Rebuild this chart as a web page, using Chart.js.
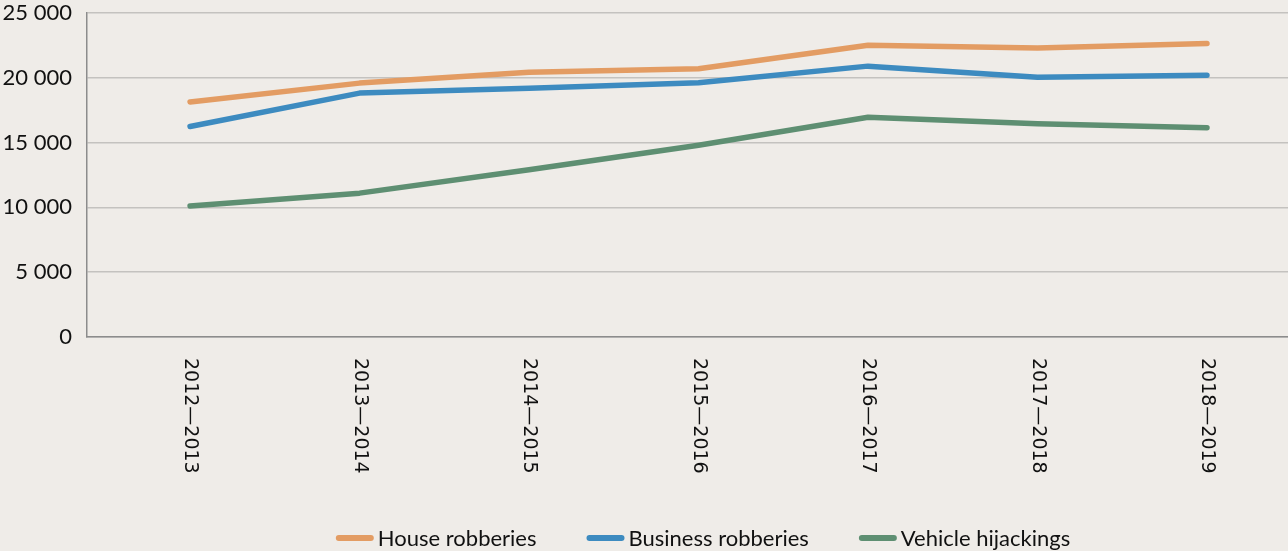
<!DOCTYPE html>
<html>
<head>
<meta charset="utf-8">
<script src="https://cdn.jsdelivr.net/npm/chart.js@4/dist/chart.umd.min.js"></script>
<style>
  html, body { margin: 0; padding: 0; background: #efece8; }
  #wrap { width: 1288px; height: 551px; }
</style>
</head>
<body>
<div id="wrap"><canvas id="myChart"></canvas></div>
<script>
const categories = ['2012\u20142013', '2013\u20142014', '2014\u20142015', '2015\u20142016', '2016\u20142017', '2017\u20142018', '2018\u20142019'];
const houseRobberies = [18130, 19590, 20420, 20700, 22510, 22300, 22640];
const businessRobberies = [16240, 18820, 19200, 19610, 20900, 20050, 20190];
const vehicleHijackings = [10100, 11100, 12900, 14800, 16950, 16450, 16150];
const yTicks = [0, 5000, 10000, 15000, 20000, 25000];

const toPoints = values => values.map((v, i) => ({ x: i, y: v }));
const fmt = v => String(v).replace(/\B(?=(\d{3})+(?!\d))/g, ' ');

// x labels in the original read top to bottom, so draw them by hand
const verticalLabels = {
    id: 'verticalLabels',
    afterDraw(chart) {
        const { ctx, chartArea } = chart;
        const x = chart.scales.x;
        ctx.save();
        ctx.font = '19px "DejaVu Sans"';
        ctx.fillStyle = '#111';
        ctx.textAlign = 'left';
        ctx.textBaseline = 'middle';
        categories.forEach((label, i) => {
            ctx.save();
            ctx.translate(x.getPixelForValue(i), chartArea.bottom + 21);
            ctx.rotate(Math.PI / 2);
            ctx.fillText(label, 0, 0);
            ctx.restore();
        });
        ctx.restore();
    }
};

// legend with a short gap between swatch and text, like the original
const lineLegend = {
    id: 'lineLegend',
    afterDraw(chart) {
        const { ctx } = chart;
        const sets = chart.data.datasets;
        const swatch = 38, gap = 4, spacing = 50, y = 538, center = 703;
        ctx.save();
        ctx.font = '22px Lato';
        const widths = sets.map(d => swatch + gap + ctx.measureText(d.label).width);
        const total = widths.reduce((a, b) => a + b, 0) + spacing * (sets.length - 1);
        let x = center - total / 2;
        sets.forEach((d, i) => {
            ctx.strokeStyle = d.borderColor;
            ctx.lineWidth = 6;
            ctx.lineCap = 'round';
            ctx.beginPath();
            ctx.moveTo(x + 3, y);
            ctx.lineTo(x + swatch - 3, y);
            ctx.stroke();
            ctx.fillStyle = '#111';
            ctx.textAlign = 'left';
            ctx.textBaseline = 'middle';
            ctx.fillText(d.label, x + swatch + gap, y + 1);
            x += widths[i] + spacing;
        });
        ctx.restore();
    }
};

const line = (label, values, color) => ({
    label: label,
    data: toPoints(values),
    borderColor: color,
    backgroundColor: color,
    borderWidth: 5.5,
    borderCapStyle: 'round',
    borderJoinStyle: 'round',
    pointRadius: 0,
    tension: 0
});

new Chart(document.getElementById('myChart'), {
    type: 'line',
    data: {
        datasets: [
            line('House robberies', houseRobberies, '#e39c63'),
            line('Business robberies', businessRobberies, '#3d8bc0'),
            line('Vehicle hijackings', vehicleHijackings, '#5e8f72')
        ]
    },
    options: {
        responsive: true,
        maintainAspectRatio: false,
        animation: false,
        layout: { padding: { top: 13, right: 0, left: 0, bottom: 0 } },
        plugins: {
            tooltip: { enabled: false },
            legend: { display: false }
        },
        scales: {
            x: {
                type: 'linear',
                min: -0.608,
                max: 6.478,
                grid: { display: false },
                border: { color: '#8c8c8c', width: 1.5 },
                ticks: { display: false },
                afterFit: scale => { scale.height = 214; }
            },
            y: {
                min: 0,
                max: 25000,
                afterBuildTicks: scale => { scale.ticks = yTicks.map(v => ({ value: v })); },
                grid: { color: '#c4c2bf', lineWidth: 1.5, drawTicks: false },
                border: { color: '#8c8c8c', width: 1.5 },
                ticks: {
                    padding: 15,
                    color: '#111',
                    font: { family: 'Lato', size: 22 },
                    callback: v => fmt(v)
                },
                afterFit: scale => {
                    scale.width = 87;
                    scale.paddingTop = 0;
                    scale.paddingBottom = 0;
                }
            }
        }
    },
    plugins: [verticalLabels, lineLegend]
});
</script>
</body>
</html>
